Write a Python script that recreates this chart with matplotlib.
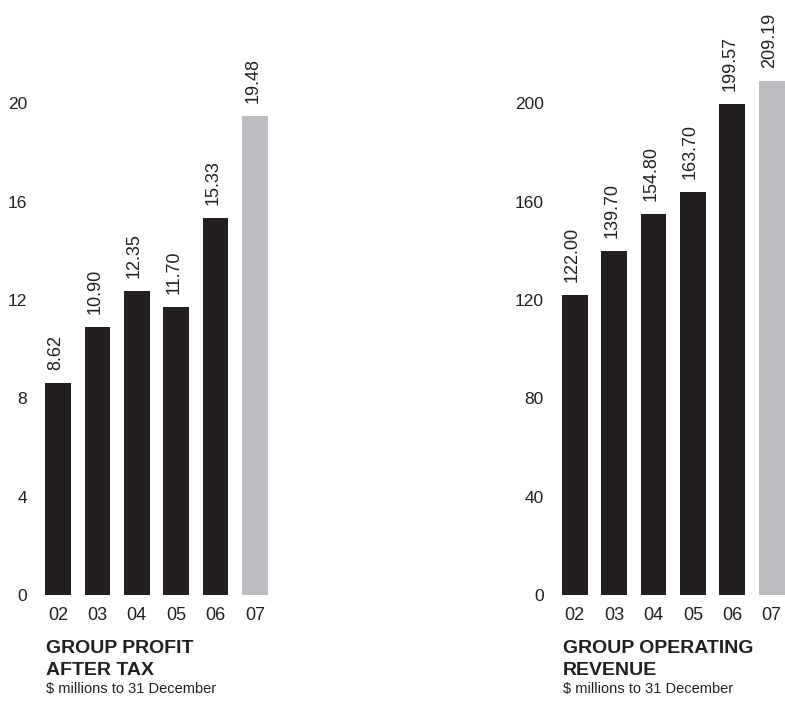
import matplotlib
matplotlib.use("Agg")
import matplotlib.pyplot as plt

years = ["02", "03", "04", "05", "06", "07"]
profit = [8.62, 10.90, 12.35, 11.70, 15.33, 19.48]
revenue = [122.00, 139.70, 154.80, 163.70, 199.57, 209.19]
profit_ticks = [0, 4, 8, 12, 16, 20]
revenue_ticks = [0, 40, 80, 120, 160, 200]

DARK = "#231f20"
GREY = "#bcbdc0"
FONT = "Liberation Sans"
plt.rcParams["font.family"] = [FONT, "DejaVu Sans"]

W, H = 785, 701
fig = plt.figure(figsize=(W / 100, H / 100), dpi=100)

def px_axes(left, bottom_px, width, height):
    return fig.add_axes([left / W, (H - bottom_px) / H, width / W, height / H])

def draw(ax, vals, ticks, ymax, fmt):
    colors = [DARK] * (len(vals) - 1) + [GREY]
    x = list(range(len(vals)))
    ax.bar(x, vals, width=0.65, color=colors)
    ax.set_xlim(-0.5, 5.5)
    ax.set_ylim(0, ymax)
    ax.set_xticks(x)
    ax.set_xticklabels(years, fontsize=13, color=DARK)
    ax.set_yticks(ticks)
    ax.set_yticklabels([str(t) for t in ticks], fontsize=12.5, color=DARK)
    ax.tick_params(axis="both", length=0)
    ax.tick_params(axis="x", pad=9)
    ax.tick_params(axis="y", pad=8)
    for s in ax.spines.values():
        s.set_visible(False)
    off = ymax * 0.024
    for xi, v in zip(x, vals):
        ax.text(xi - 0.06, v + off, fmt.format(v), rotation=90, ha="center",
                va="bottom", fontsize=13, color=DARK)

ax1 = px_axes(38.3, 595, 236.4, 541)
draw(ax1, profit, profit_ticks, 22, "{:.2f}")
ax2 = px_axes(555, 595, 236.4, 541)
draw(ax2, revenue, revenue_ticks, 220, "{:.2f}")

def fy(p):
    return (H - p) / H

fig.text(46 / W, fy(653), "GROUP PROFIT", fontsize=14, fontweight="bold",
         color=DARK, va="baseline")
fig.text(46 / W, fy(675), "AFTER TAX", fontsize=14, fontweight="bold",
         color=DARK, va="baseline")
fig.text(46 / W, fy(693), "$ millions to 31 December", fontsize=10.5,
         color=DARK, va="baseline")

fig.text(563 / W, fy(653), "GROUP OPERATING", fontsize=14, fontweight="bold",
         color=DARK, va="baseline")
fig.text(563 / W, fy(675), "REVENUE", fontsize=14, fontweight="bold",
         color=DARK, va="baseline")
fig.text(563 / W, fy(693), "$ millions to 31 December", fontsize=10.5,
         color=DARK, va="baseline")

fig.savefig("out.png", dpi=100)
